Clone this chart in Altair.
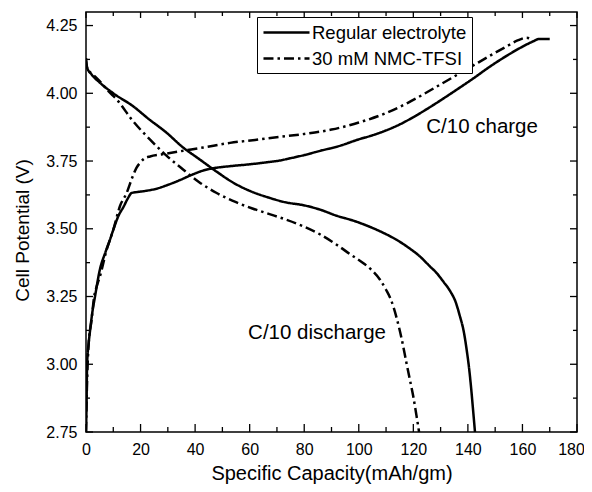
import altair as alt
import pandas as pd

FONT = "Liberation Sans"
series_names = ["Regular electrolyte", "30 mM NMC-TFSI"]

# Regular electrolyte, C/10 charge
reg_charge_x = [0.0, 0.2, 0.4, 1.0, 1.5, 2.3, 3.3, 5.1, 7.0, 8.8, 10.0, 12.0, 13.7, 15.5, 16.7,
                19.0, 22.0, 25.9, 30.0, 34.5, 39.0, 43.0, 47.0, 52.8, 60.0, 66.0, 71.1, 74.8,
                80.0, 86.0, 93.0, 100.0, 105.0, 110.0, 115.0, 120.0, 125.0, 130.0, 136.0,
                142.0, 148.0, 154.0, 160.0, 164.0, 166.0, 170.0]
reg_charge_v = [2.75, 2.85, 3.00, 3.08, 3.125, 3.19, 3.25, 3.35, 3.41, 3.46, 3.496, 3.55, 3.58,
                3.615, 3.632, 3.636, 3.640, 3.648, 3.662, 3.680, 3.700, 3.715, 3.724, 3.731,
                3.738, 3.745, 3.752, 3.760, 3.772, 3.788, 3.806, 3.830, 3.845, 3.863, 3.885,
                3.912, 3.942, 3.974, 4.014, 4.055, 4.098, 4.137, 4.172, 4.192, 4.200, 4.200]

# Regular electrolyte, C/10 discharge
reg_dis_x = [0.0, 0.4, 2.0, 5.0, 10.0, 17.3, 23.0, 29.6, 35.0, 41.8, 48.0, 54.0, 60.0, 67.0,
             73.0, 79.7, 86.0, 91.9, 98.0, 104.1, 109.0, 113.9, 118.0, 122.4, 126.0, 128.6,
             131.0, 133.5, 135.5, 137.0, 138.5, 139.6, 140.5, 141.3, 142.0, 142.6]
reg_dis_v = [4.12, 4.095, 4.07, 4.04, 4.00, 3.952, 3.905, 3.854, 3.805, 3.755, 3.71, 3.67,
             3.64, 3.615, 3.598, 3.587, 3.570, 3.548, 3.530, 3.507, 3.485, 3.459, 3.432,
             3.398, 3.362, 3.336, 3.305, 3.27, 3.23, 3.18, 3.12, 3.05, 2.98, 2.90, 2.82, 2.75]

# 30 mM NMC-TFSI, C/10 charge
nmc_charge_x = [0.0, 0.3, 0.6, 1.0, 2.0, 3.0, 4.0, 5.1, 7.5, 10.0, 12.5, 14.9, 17.0, 18.5,
                19.8, 21.5, 23.5, 28.0, 34.5, 43.0, 52.8, 62.0, 71.1, 80.0, 90.0, 100.0, 110.0,
                118.0, 124.0, 130.0, 136.0, 142.0, 148.0, 154.0, 158.0, 161.5, 163.3]
nmc_charge_v = [2.75, 2.90, 3.00, 3.08, 3.16, 3.25, 3.29, 3.324, 3.42, 3.496, 3.585, 3.632,
                3.69, 3.725, 3.743, 3.760, 3.767, 3.775, 3.786, 3.800, 3.817, 3.828, 3.839,
                3.850, 3.866, 3.892, 3.927, 3.965, 3.998, 4.033, 4.068, 4.103, 4.138, 4.172,
                4.194, 4.205, 4.200]

# 30 mM NMC-TFSI, C/10 discharge
nmc_dis_x = [0.0, 0.5, 2.5, 5.1, 8.0, 11.3, 17.0, 23.5, 29.5, 35.7, 41.5, 47.9, 55.0, 61.0,
             67.0, 73.0, 79.7, 86.0, 91.9, 97.0, 101.7, 105.0, 107.8, 110.0, 111.8, 113.9,
             115.8, 117.5, 118.8, 120.0, 121.0, 121.8, 122.1]
nmc_dis_v = [4.13, 4.09, 4.07, 4.044, 4.01, 3.977, 3.90, 3.829, 3.77, 3.718, 3.672, 3.632,
             3.598, 3.575, 3.555, 3.535, 3.509, 3.478, 3.441, 3.405, 3.373, 3.345, 3.312,
             3.275, 3.238, 3.17, 3.09, 3.004, 2.94, 2.88, 2.82, 2.77, 2.75]

x_major = [0, 20, 40, 60, 80, 100, 120, 140, 160, 180]
x_minor = [10, 30, 50, 70, 90, 110, 130, 150, 170]
y_major = [2.75, 3.00, 3.25, 3.50, 3.75, 4.00, 4.25]
y_minor = [2.875, 3.125, 3.375, 3.625, 3.875, 4.125]

annot_text = ["C/10 charge", "C/10 discharge"]
annot_x = [145.2, 84.7]
annot_v = [3.877, 3.116]

rows = []
def add(series, seg, xs, vs):
    for i, (x, v) in enumerate(zip(xs, vs)):
        rows.append({"series": series, "segment": seg, "key": series + "|" + seg,
                     "idx": i, "cap": x, "V": v})

add(series_names[0], "charge", reg_charge_x, reg_charge_v)
add(series_names[0], "discharge", reg_dis_x, reg_dis_v)
add(series_names[1], "charge", nmc_charge_x, nmc_charge_v)
add(series_names[1], "discharge", nmc_dis_x, nmc_dis_v)
df = pd.DataFrame(rows)

W, H = 491, 420
xscale = alt.Scale(domain=[0, 180], nice=False, zero=False)
yscale = alt.Scale(domain=[2.75, 4.30], nice=False, zero=False)

x_axis = alt.Axis(values=x_major, format="d", title="Specific Capacity(mAh/gm)",
                  ticks=False, tickSize=0, domain=False, grid=False,
                  labelPadding=9, titlePadding=6, labelFontSize=16,
                  titleFontSize=20, labelFont=FONT, titleFont=FONT,
                  titleFontWeight="normal", labelColor="black", titleColor="black",
                  labelFlush=False, labelOverlap=False,
                  labelOffset={"condition": {"test": "datum.value == 180", "value": -6},
                               "value": 0})
y_axis = alt.Axis(values=y_major, format=".2f", title="Cell Potential (V)",
                  ticks=False, tickSize=0, domain=False, grid=False,
                  labelPadding=9, titlePadding=13, labelFontSize=16,
                  titleFontSize=19, labelFont=FONT, titleFont=FONT,
                  titleFontWeight="normal", labelColor="black", titleColor="black",
                  labelFlush=False, labelOverlap=False, titleY=218)

lines = alt.Chart(df).mark_line(strokeWidth=2.5, color="black", interpolate="monotone",
                                clip=True).encode(
    x=alt.X("cap:Q", scale=xscale, axis=x_axis),
    y=alt.Y("V:Q", scale=yscale, axis=y_axis),
    strokeDash=alt.StrokeDash("series:N",
                              scale=alt.Scale(domain=series_names,
                                              range=[[1, 0], [10, 4, 2.5, 4]]),
                              legend=alt.Legend(title=None, orient="none", legendX=171,
                                                legendY=5, strokeColor="black",
                                                fillColor="white", padding=5,
                                                labelFontSize=18.5, labelFont=FONT,
                                                labelColor="black",
                                                symbolType="M-2.5,0H2.5",
                                                symbolSize=339, symbolStrokeWidth=2.5,
                                                symbolStrokeColor="black",
                                                symbolOffset=14, labelOffset=15,
                                                rowPadding=6)),
    detail="key:N",
    order="idx:Q",
)

def xticks(vals, length, top):
    d = pd.DataFrame({"cap": vals})
    enc = {"x": alt.X("cap:Q", scale=xscale, axis=x_axis)}
    if top:
        enc.update(y=alt.value(0), y2=alt.value(length))
    else:
        enc.update(y=alt.value(H), y2=alt.value(H - length))
    return alt.Chart(d).mark_rule(color="black", strokeWidth=1.3).encode(**enc)

def yticks(vals, length, right):
    d = pd.DataFrame({"V": vals})
    enc = {"y": alt.Y("V:Q", scale=yscale, axis=y_axis)}
    if right:
        enc.update(x=alt.value(W), x2=alt.value(W - length))
    else:
        enc.update(x=alt.value(0), x2=alt.value(length))
    return alt.Chart(d).mark_rule(color="black", strokeWidth=1.3).encode(**enc)

ann_df = pd.DataFrame({"label": annot_text, "cap": annot_x, "V": annot_v})
annots = alt.Chart(ann_df).mark_text(fontSize=20.5, font=FONT, color="black", align="center",
                                     baseline="middle").encode(
    x=alt.X("cap:Q", scale=xscale, axis=x_axis),
    y=alt.Y("V:Q", scale=yscale, axis=y_axis),
    text="label:N",
)

chart = alt.layer(
    lines,
    xticks(x_major, 8, False), xticks(x_minor, 5, False),
    xticks(x_major, 6, True), xticks(x_minor, 4, True),
    yticks(y_major, 7, False), yticks(y_minor, 4, False),
    yticks(y_major, 7, True), yticks(y_minor, 4, True),
    annots,
).properties(
    width=W, height=H,
    autosize=alt.AutoSizeParams(type="none"),
    padding={"left": 78, "top": 4, "right": 7, "bottom": 52},
).configure(font=FONT).configure_view(stroke="black", strokeWidth=1.5)

chart.save("out.html", embed_options={"renderer": "svg", "actions": False})
